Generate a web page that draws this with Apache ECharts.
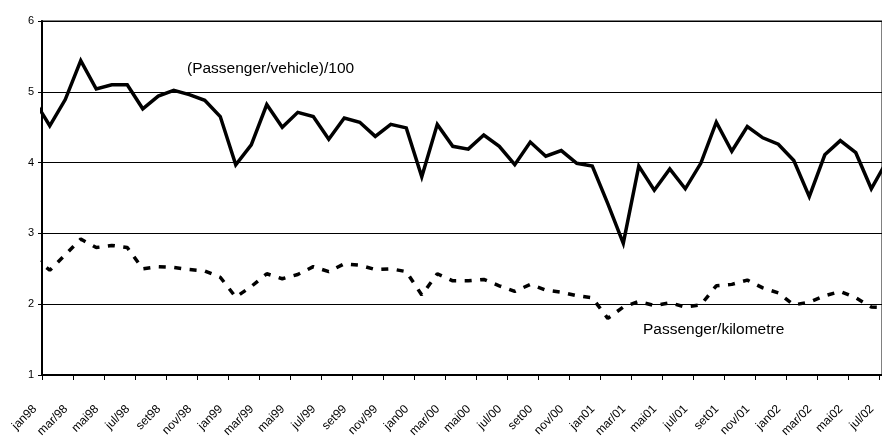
<!DOCTYPE html>
<html>
<head>
<meta charset="utf-8">
<script src="https://cdn.jsdelivr.net/npm/echarts@6/dist/echarts.min.js"></script>
<style>
html,body{margin:0;padding:0;background:#fff;}
#chart{width:882px;height:437px;}
</style>
</head>
<body>
<div id="chart"></div>
<script>
// Months (category per data point); only every second one is labelled
var months = [
  'jan98','fev98','mar/98','abr98','mai98','jun98','jul/98','ago98','set98','out98','nov/98','dez98',
  'jan99','fev99','mar/99','abr99','mai99','jun99','jul/99','ago99','set99','out99','nov/99','dez99',
  'jan00','fev00','mar/00','abr00','mai00','jun00','jul/00','ago00','set00','out00','nov/00','dez00',
  'jan01','fev01','mar/01','abr01','mai01','jun01','jul/01','ago01','set01','out01','nov/01','dez01',
  'jan02','fev02','mar/02','abr02','mai02','jun02','jul/02','ago02'
];
// (Passenger/vehicle)/100
var passengerVehicle = [
  4.88,4.52,4.89,5.44,5.04,5.10,5.10,4.76,4.94,5.02,4.96,4.88,
  4.65,3.97,4.25,4.82,4.50,4.71,4.65,4.33,4.63,4.57,4.37,4.54,
  4.49,3.80,4.54,4.23,4.19,4.39,4.23,3.97,4.29,4.09,4.17,3.99,
  3.95,3.42,2.86,3.95,3.61,3.91,3.63,3.99,4.57,4.16,4.51,4.35,
  4.26,4.03,3.52,4.11,4.31,4.14,3.63,4.02
];
// Passenger/kilometre
var passengerKm = [
  2.65,2.48,2.70,2.92,2.80,2.83,2.80,2.50,2.53,2.52,2.49,2.47,
  2.38,2.10,2.25,2.43,2.36,2.42,2.53,2.46,2.57,2.55,2.49,2.50,
  2.46,2.13,2.43,2.33,2.33,2.35,2.26,2.18,2.28,2.20,2.17,2.12,
  2.09,1.80,1.96,2.04,1.98,2.02,1.96,1.99,2.26,2.28,2.34,2.23,
  2.16,1.99,2.03,2.12,2.18,2.09,1.96,1.95
];
var yTicks = [1,2,3,4,5,6];
var seriesNames = ['(Passenger/vehicle)/100','Passenger/kilometre'];

function toPoints(vals){
  // month i is centred half a month before tick position i
  return vals.map(function(v,i){ return [i - 0.5, v]; });
}

var FONT = '"Liberation Sans", Arial, sans-serif';
var chart = echarts.init(document.getElementById('chart'), null, {renderer:'canvas'});
chart.setOption({
  animation:false,
  backgroundColor:'#fff',
  grid:{left:42, right:0, top:21, bottom:62, containLabel:false, outerBoundsMode:'none',
        show:true, borderColor:'#808080', borderWidth:2, backgroundColor:'transparent'},
  xAxis:{
    type:'value', min:0, max:54.19, interval:2,
    axisLine:{show:true, lineStyle:{color:'#000', width:2}},
    axisTick:{show:true, length:5, lineStyle:{color:'#000', width:1}},
    splitLine:{show:false},
    axisLabel:{
      show:true, rotate:45, margin:25, padding:[0,10,0,0],
      fontFamily:FONT, fontSize:12, color:'#000',
      showMaxLabel:false,
      formatter:function(v){
        if (Math.abs(v - Math.round(v)) > 1e-6 || Math.round(v) % 2 !== 0) return '';
        return months[Math.round(v)] || '';
      }
    }
  },
  yAxis:{
    type:'value', min:yTicks[0], max:yTicks[yTicks.length-1], interval:1,
    axisLine:{show:true, lineStyle:{color:'#000', width:2}},
    axisTick:{show:true, length:4, lineStyle:{color:'#000', width:1}},
    splitLine:{show:true, lineStyle:{color:'#000', width:1}},
    axisLabel:{margin:8, fontFamily:FONT, fontSize:11, color:'#000'}
  },
  series:[
    {
      name:seriesNames[0], type:'line', data:toPoints(passengerVehicle),
      symbol:'none', clip:true,
      lineStyle:{color:'#000', width:3.5, join:'miter'}
    },
    {
      name:seriesNames[1], type:'line', data:toPoints(passengerKm),
      symbol:'none', clip:true,
      lineStyle:{color:'#000', width:3.5, type:[7,8.5], cap:'butt'}
    }
  ],
  graphic:[
    {type:'text', left:187, top:61, style:{text:seriesNames[0], font:'15.5px ' + FONT, fill:'#000'}},
    {type:'text', left:643, top:322, style:{text:seriesNames[1], font:'15.5px ' + FONT, fill:'#000'}}
  ]
});
</script>
</body>
</html>
